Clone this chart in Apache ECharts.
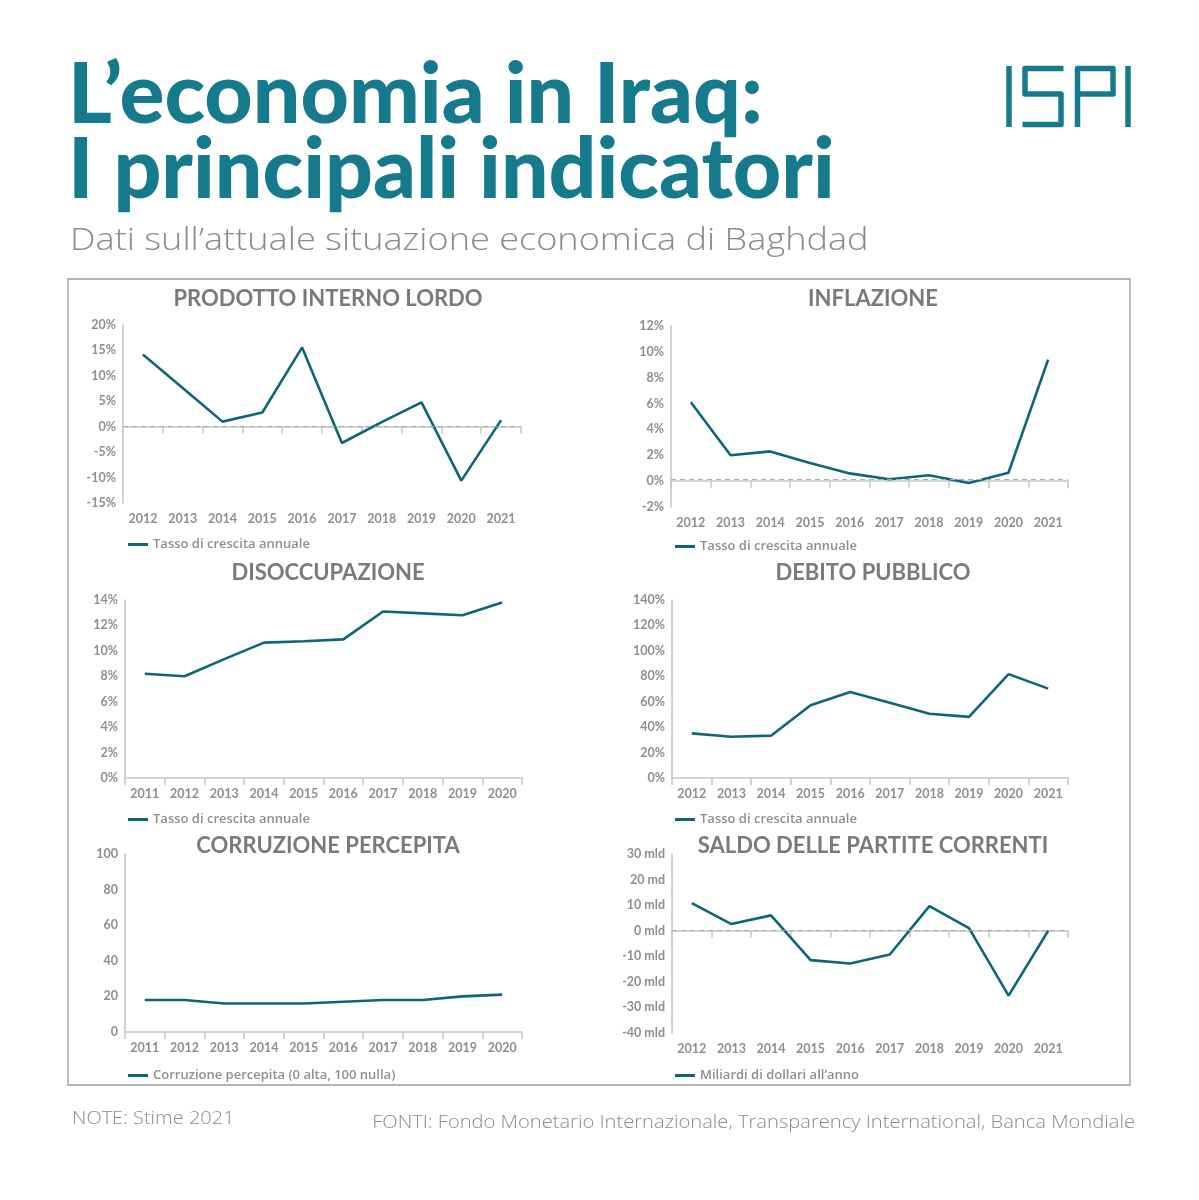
<!DOCTYPE html>
<html>
<head>
<meta charset="utf-8">
<script src="https://cdn.jsdelivr.net/npm/echarts@6/dist/echarts.min.js"></script>
<style>
html,body{margin:0;padding:0;background:#fff;}
#chart{width:1199px;height:1200px;}
</style>
</head>
<body>
<div id="chart"></div>
<script>
// ---- data ----
const yearsA = ['2012','2013','2014','2015','2016','2017','2018','2019','2020','2021'];
const yearsB = ['2011','2012','2013','2014','2015','2016','2017','2018','2019','2020'];

const pilValues = [14.2, 7.6, 1.0, 2.8, 15.6, -3.2, 0.9, 4.8, -10.6, 1.3];
const inflazioneValues = [6.1, 2.0, 2.3, 1.4, 0.6, 0.15, 0.45, -0.15, 0.65, 9.4];
const disoccupazioneValues = [8.2, 8.0, 9.35, 10.65, 10.75, 10.9, 13.1, 12.95, 12.8, 13.8];
const debitoValues = [35.1, 32.5, 33.3, 57.2, 67.7, 59.1, 50.5, 48.1, 81.7, 70.3];
const corruzioneValues = [18, 18, 16, 16, 16, 17, 18, 18, 20, 21];
const saldoValues = [10.8, 2.6, 6.0, -11.5, -12.8, -9.3, 9.6, 1.0, -25.4, 0.0];

const saldoTickLabels = ['-40 mld','-30 mld','-20 mld','-10 mld','0 mld','10 mld','20 md','30 mld'];

const panelTitles = ['PRODOTTO INTERNO LORDO','INFLAZIONE','DISOCCUPAZIONE','DEBITO PUBBLICO','CORRUZIONE PERCEPITA','SALDO DELLE PARTITE CORRENTI'];
const seriesNames = ['Tasso di crescita annuale','Tasso di crescita annuale','Tasso di crescita annuale','Tasso di crescita annuale','Corruzione percepita (0 alta, 100 nulla)','Miliardi di dollari all\u2019anno'];

// ---- styling ----
const TEAL = '#157a8c';
const LINE = '#0d6678';
const GREY_TXT = '#8e8e8e';
const AXIS = '#c6c6c6';
const FONT = 'Lato';

const grids = [
  {left:123, top:325, width:398, height:178},
  {left:671, top:326, width:397, height:181},
  {left:125, top:600, width:397, height:178},
  {left:672, top:600, width:396, height:178},
  {left:125, top:854, width:397, height:178},
  {left:672, top:854, width:396, height:179}
];
const yCfg = [
  {min:-15, max:20, interval:5, fmt:v=>v+'%'},
  {min:-2, max:12, interval:2, fmt:v=>v+'%'},
  {min:0, max:14, interval:2, fmt:v=>v+'%'},
  {min:0, max:140, interval:20, fmt:v=>v+'%'},
  {min:0, max:100, interval:20, fmt:v=>String(v)},
  {min:-40, max:30, interval:10, fmt:v=>saldoTickLabels[Math.round((v+40)/10)]}
];
const cats = [yearsA, yearsA, yearsB, yearsA, yearsB, yearsA];
const datas = [pilValues, inflazioneValues, disoccupazioneValues, debitoValues, corruzioneValues, saldoValues];
const refLines = [0, 0.15, null, null, null, 0];
const titleCenters = [[328,298],[873,298],[328,572],[873,572],[328,845],[873,845]];
const legendPos = [[128,538],[675,540],[128,813],[675,813],[128,1069],[675,1069]];
const legendGaps = [7,7,7,7,9,7];

const xAxes = [], yAxes = [], series = [], titles = [], legends = [];
for (let i=0;i<6;i++){
  xAxes.push({
    type:'category', gridIndex:i, data:cats[i], boundaryGap:true,
    axisLine:{show:true, lineStyle:{color:AXIS, width:1.5}},
    axisTick:{show:true, length:7, lineStyle:{color:AXIS, width:1.5}},
    axisLabel:{color:GREY_TXT, fontFamily:FONT, fontWeight:'bold', fontSize:12.5, margin:9},
    splitLine:{show:false}
  });
  yAxes.push({
    type:'value', gridIndex:i, min:yCfg[i].min, max:yCfg[i].max, interval:yCfg[i].interval,
    axisLine:{show:true, lineStyle:{color:AXIS, width:1.5}},
    axisTick:{show:false},
    splitLine:{show:false},
    axisLabel:{color:GREY_TXT, fontFamily:FONT, fontWeight:'bold', fontSize:12.5, margin:7, formatter:yCfg[i].fmt}
  });
  const s = {
    type:'line', name:seriesNames[i], xAxisIndex:i, yAxisIndex:i, data:datas[i],
    symbol:'none', lineStyle:{color:LINE, width:2.6}, itemStyle:{color:LINE},
    silent:true, animation:false
  };
  if (refLines[i] !== null){
    s.markLine = {silent:true, symbol:['none','none'], label:{show:false},
      lineStyle:{color:'#ababab', type:[5,4], width:1.2},
      data:[{yAxis:refLines[i]}]};
  }
  series.push(s);
  titles.push({
    text:panelTitles[i], left:titleCenters[i][0], top:titleCenters[i][1]-10, textAlign:'center', padding:0,
    textStyle:{color:'#7a7a7a', fontFamily:FONT, fontWeight:'bold', fontSize:22}
  });
  legends.push({
    data:[seriesNames[i]], left:legendPos[i][0], top:legendPos[i][1], icon:'rect',
    itemWidth:20, itemHeight:3, itemGap:legendGaps[i], selectedMode:false, padding:0,
    textStyle:{color:GREY_TXT, fontFamily:'Open Sans', fontWeight:600, fontSize:13}
  });
}

// ISPI logo strokes
const logoStyle = {stroke:TEAL, lineWidth:5.5, fill:null, lineJoin:'round'};
const graphic = [
  {type:'rect', shape:{x:68, y:279, width:1062, height:806}, style:{fill:null, stroke:'#9a9a9a', lineWidth:1.3}, silent:true},
  {type:'text', x:68, y:96, style:{text:'L\u2019economia in Iraq:', fill:TEAL, font:'900 84px Lato', verticalAlign:'middle'}},
  {type:'text', x:68, y:171, style:{text:'I principali indicatori', fill:TEAL, font:'900 84px Lato', verticalAlign:'middle'}},
  {type:'text', x:70, y:241, scaleX:1.165, style:{text:'Dati sull\u2019attuale situazione economica di Baghdad', fill:'#8a8a8a', font:'300 31px "Open Sans"', verticalAlign:'middle'}},
  {type:'text', x:72, y:1119, scaleX:1.14, style:{text:'NOTE: Stime 2021', fill:'#8a8a8a', font:'300 17.5px "Open Sans"', verticalAlign:'middle'}},
  {type:'text', x:1135, y:1123, scaleX:1.15, style:{text:'FONTI: Fondo Monetario Internazionale, Transparency International, Banca Mondiale', fill:'#8a8a8a', font:'300 17.5px "Open Sans"', align:'right', verticalAlign:'middle'}},
  {type:'polyline', shape:{points:[[1009,66],[1009,127]]}, style:logoStyle},
  {type:'polyline', shape:{points:[[1063.5,68.5],[1025,68.5],[1025,94],[1061,94],[1061,124.5],[1022.5,124.5]]}, style:logoStyle},
  {type:'polyline', shape:{points:[[1077.5,127],[1077.5,68.5],[1113,68.5],[1113,94],[1077.5,94]]}, style:logoStyle},
  {type:'polyline', shape:{points:[[1128,66],[1128,127]]}, style:logoStyle}
];

const chart = echarts.init(document.getElementById('chart'), null, {renderer:'canvas'});
chart.setOption({
  backgroundColor:'#ffffff',
  animation:false,
  title:titles,
  legend:legends,
  grid:grids,
  xAxis:xAxes,
  yAxis:yAxes,
  series:series,
  graphic:graphic
});
</script>
</body>
</html>
